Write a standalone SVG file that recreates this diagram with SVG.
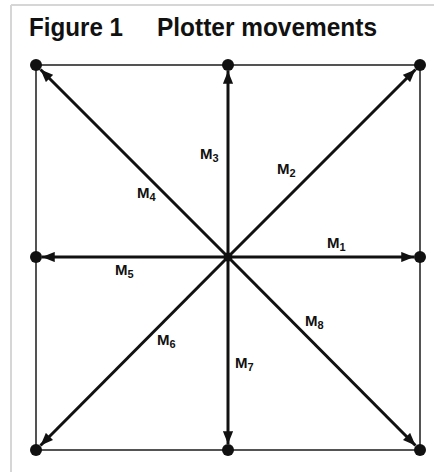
<svg xmlns="http://www.w3.org/2000/svg" width="434" height="472" viewBox="0 0 434 472">
<style>
.frame{stroke:#d6d6d6;stroke-width:2;fill:none}
.edge{stroke:#2a2a2a;stroke-width:1.6;fill:none}
.arrow{stroke:#111;stroke-width:3;fill:none;marker-end:url(#ah)}
.dot{fill:#111}
.title{font-family:"Liberation Sans",Arial,sans-serif;font-weight:bold;font-size:25px;fill:#111}
.lbl{font-family:"Liberation Sans",Arial,sans-serif;font-weight:bold;font-size:15px;fill:#111}
.sub{font-size:11px}
</style>
<defs>
<marker id="ah" viewBox="0 0 10 8" refX="10" refY="4" markerWidth="4.6" markerHeight="3.4" orient="auto" markerUnits="strokeWidth">
<path d="M0,0 L10,4 L0,8 Z" fill="#111"/>
</marker>
</defs>
<g id="frame">
<line class="frame" x1="11" y1="5" x2="434" y2="5"/>
<line class="frame" x1="11" y1="5" x2="11" y2="472"/>
</g>
<g id="title">
<text class="title" x="29" y="36" textLength="94" lengthAdjust="spacingAndGlyphs">Figure 1</text>
<text class="title" x="157" y="36" textLength="220" lengthAdjust="spacingAndGlyphs">Plotter movements</text>
</g>
<g id="square">
<rect class="edge" x="36" y="65" width="384" height="385"/>
</g>
<g id="connectors">
<line class="arrow" x1="228" y1="257" x2="414" y2="257"/>
<line class="arrow" x1="228" y1="257" x2="415.5" y2="69.5"/>
<line class="arrow" x1="228" y1="257" x2="228" y2="71"/>
<line class="arrow" x1="228" y1="257" x2="40.5" y2="69.5"/>
<line class="arrow" x1="228" y1="257" x2="42" y2="257"/>
<line class="arrow" x1="228" y1="257" x2="40.5" y2="445.5"/>
<line class="arrow" x1="228" y1="257" x2="228" y2="444"/>
<line class="arrow" x1="228" y1="257" x2="415.5" y2="445.5"/>
</g>
<g id="node-center"><circle class="dot" cx="228" cy="257" r="4.5"/></g>
<g id="node-tl"><circle class="dot" cx="36" cy="65" r="6"/></g>
<g id="node-tm"><circle class="dot" cx="228" cy="65" r="6"/></g>
<g id="node-tr"><circle class="dot" cx="420" cy="65" r="6"/></g>
<g id="node-ml"><circle class="dot" cx="36" cy="257" r="6"/></g>
<g id="node-mr"><circle class="dot" cx="420" cy="257" r="6"/></g>
<g id="node-bl"><circle class="dot" cx="36" cy="450" r="6"/></g>
<g id="node-bm"><circle class="dot" cx="228" cy="450" r="6"/></g>
<g id="node-br"><circle class="dot" cx="420" cy="450" r="6"/></g>
<g id="labels">
<text class="lbl" x="327" y="248">M<tspan class="sub" dy="3">1</tspan></text>
<text class="lbl" x="277" y="174">M<tspan class="sub" dy="3">2</tspan></text>
<text class="lbl" x="200" y="159">M<tspan class="sub" dy="3">3</tspan></text>
<text class="lbl" x="137" y="198">M<tspan class="sub" dy="3">4</tspan></text>
<text class="lbl" x="115" y="275">M<tspan class="sub" dy="3">5</tspan></text>
<text class="lbl" x="157" y="345">M<tspan class="sub" dy="3">6</tspan></text>
<text class="lbl" x="235" y="368">M<tspan class="sub" dy="3">7</tspan></text>
<text class="lbl" x="305" y="326">M<tspan class="sub" dy="3">8</tspan></text>
</g>
</svg>
